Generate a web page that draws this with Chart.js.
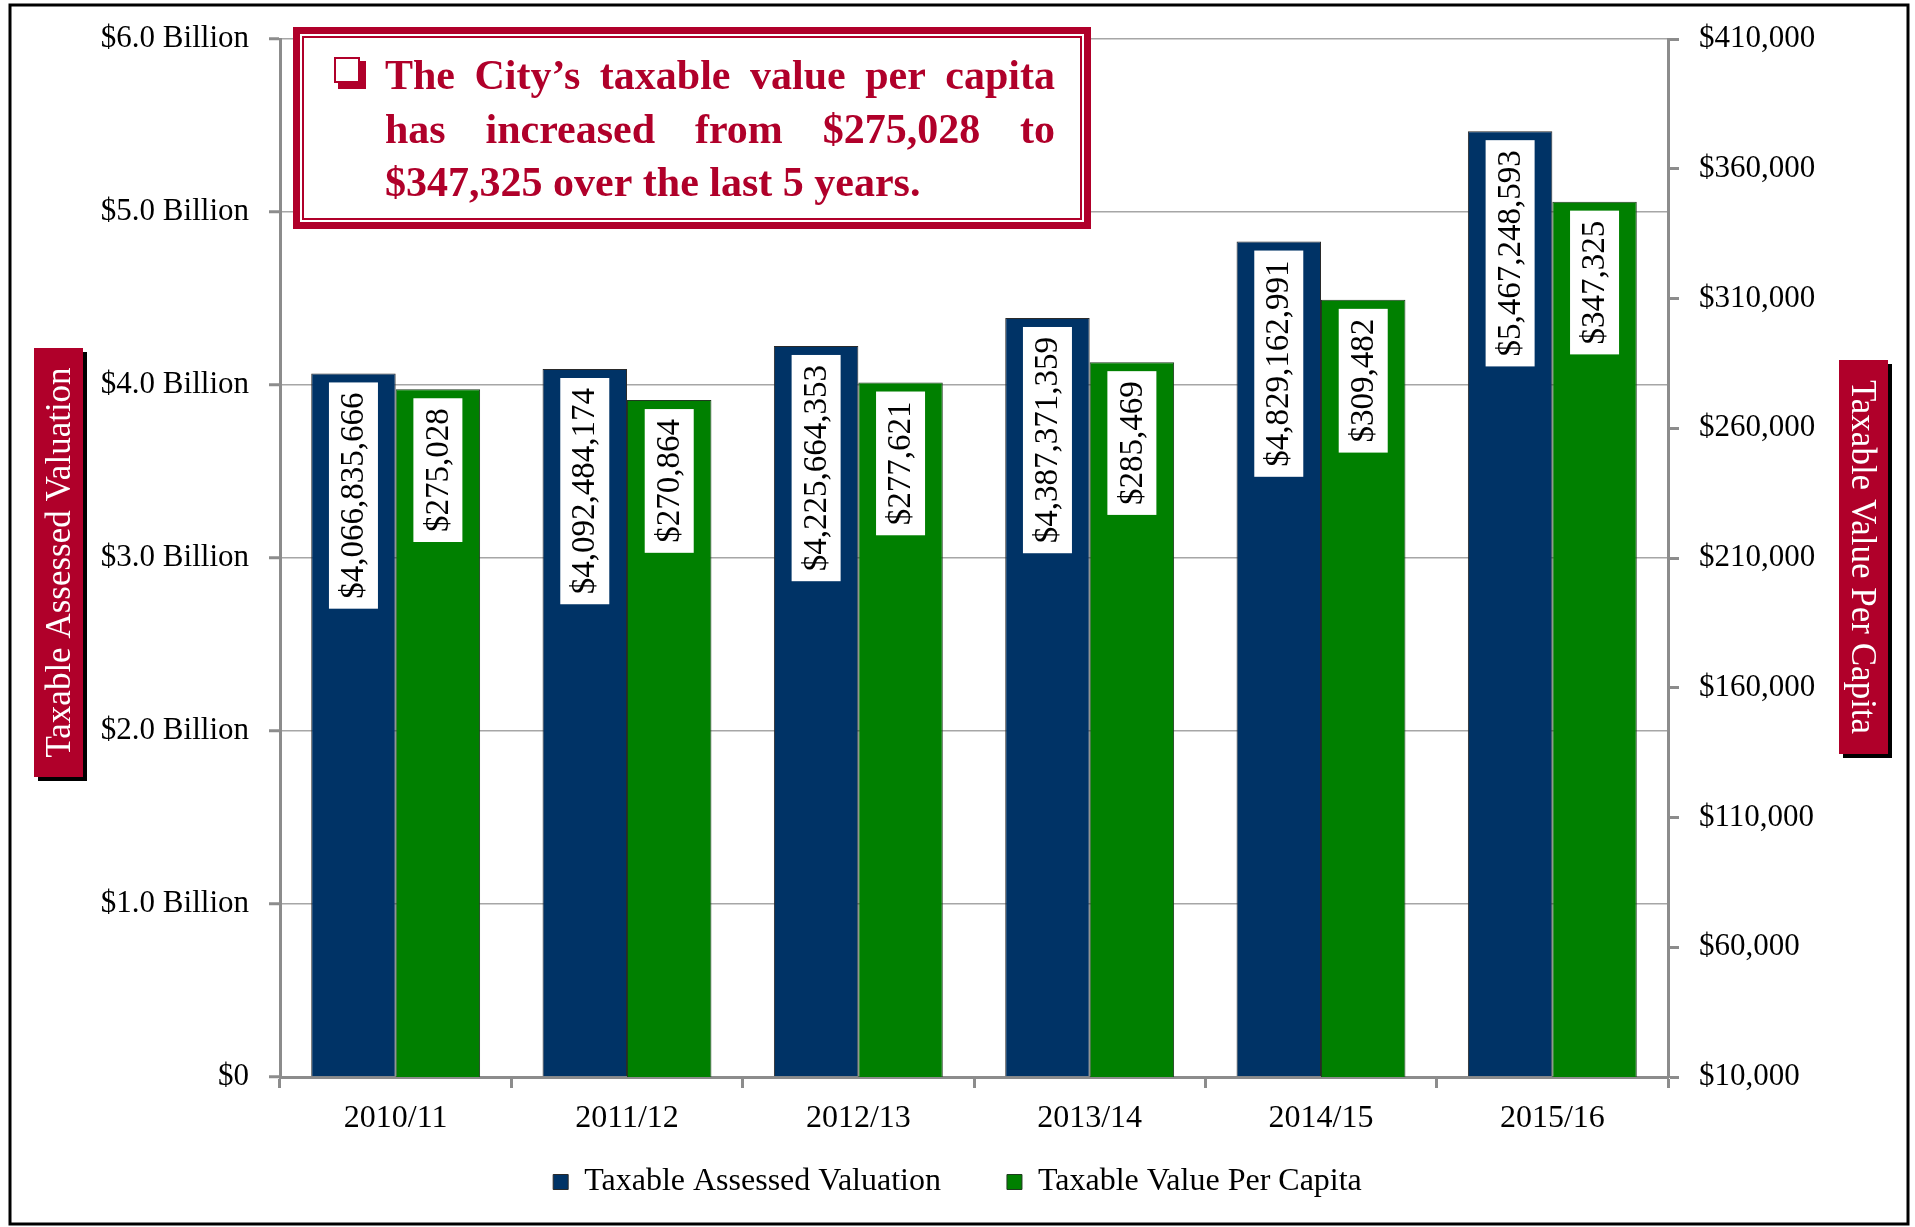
<!DOCTYPE html>
<html>
<head>
<meta charset="utf-8">
<script src="https://cdn.jsdelivr.net/npm/chart.js@4"></script>
<style>
  html, body { margin: 0; padding: 0; background: #fff; }
  #wrap { width: 1915px; height: 1227px; position: relative; }
</style>
</head>
<body>
<div id="wrap"><canvas id="taxChart"></canvas></div>
<script>
const years = ["2010/11", "2011/12", "2012/13", "2013/14", "2014/15", "2015/16"];
const assessedValuation = [4066835666, 4092484174, 4225664353, 4387371359, 4829162991, 5467248593];
const valuePerCapita = [275028, 270864, 277621, 285469, 309482, 347325];

const RED = "#b0002a";
const SERIF = "'Liberation Serif', 'Times New Roman', serif";

const money = (v) => "$" + v.toLocaleString("en-US");

// labels in white boxes, rotated, at the top inside each bar
const barLabels = {
  id: "barLabels",
  afterDatasetsDraw(chart) {
    const ctx = chart.ctx;
    ctx.save();
    ctx.font = "33px " + SERIF;
    chart.data.datasets.forEach((ds, di) => {
      const meta = chart.getDatasetMeta(di);
      meta.data.forEach((bar, i) => {
        const text = money(ds.data[i]);
        const len = ctx.measureText(text).width + 20;
        const top = bar.y + 9;
        ctx.save();
        ctx.translate(bar.x, top + len / 2);
        ctx.rotate(-Math.PI / 2);
        ctx.fillStyle = "#fff";
        ctx.fillRect(-len / 2, -24.5, len, 49);
        ctx.fillStyle = "#000";
        ctx.textAlign = "center";
        ctx.textBaseline = "middle";
        ctx.fillText(text, 0, 1);
        ctx.restore();
      });
    });
    ctx.restore();
  },
};

function titleBox(ctx, x, y, w, h, text, angle) {
  ctx.fillStyle = "#000";
  ctx.fillRect(x + 4, y + 4, w, h);
  ctx.fillStyle = RED;
  ctx.fillRect(x, y, w, h);
  ctx.save();
  ctx.translate(x + w / 2, y + h / 2);
  ctx.rotate(angle);
  ctx.fillStyle = "#fff";
  ctx.font = "35px " + SERIF;
  ctx.textAlign = "center";
  ctx.textBaseline = "middle";
  ctx.fillText(text, 0, 2);
  ctx.restore();
}

function justifyLine(ctx, words, x, y, width) {
  const total = words.reduce((s, w) => s + ctx.measureText(w).width, 0);
  const gap = (width - total) / (words.length - 1);
  let cx = x;
  words.forEach((w) => {
    ctx.fillText(w, cx, y);
    cx += ctx.measureText(w).width + gap;
  });
}

const decorations = {
  id: "decorations",
  beforeDraw(chart) {
    const ctx = chart.ctx;
    ctx.save();
    ctx.fillStyle = "#fff";
    ctx.fillRect(0, 0, chart.width, chart.height);
    ctx.strokeStyle = "#000";
    ctx.lineWidth = 3;
    ctx.strokeRect(10, 5, 1898, 1219);
    ctx.restore();
  },
  afterDraw(chart) {
    const ctx = chart.ctx;
    ctx.save();
    // axis titles
    titleBox(ctx, 34, 348, 49, 429, "Taxable Assessed Valuation", -Math.PI / 2);
    titleBox(ctx, 1839, 360, 49, 394, "Taxable Value Per Capita", Math.PI / 2);

    // callout box
    ctx.fillStyle = RED;
    ctx.fillRect(293, 27, 798, 202);
    ctx.fillStyle = "#fff";
    ctx.fillRect(300, 34, 784, 188);
    ctx.strokeStyle = RED;
    ctx.lineWidth = 2;
    ctx.strokeRect(303, 37, 778, 182);

    // checkbox bullet
    ctx.fillStyle = RED;
    ctx.fillRect(338, 61, 28, 28);
    ctx.fillStyle = "#fff";
    ctx.fillRect(335, 58, 24, 24);
    ctx.lineWidth = 2;
    ctx.strokeRect(335, 58, 24, 24);

    ctx.fillStyle = RED;
    ctx.font = "bold 42px " + SERIF;
    ctx.textBaseline = "alphabetic";
    justifyLine(ctx, "The City\u2019s taxable value per capita".split(" "), 385, 89, 670);
    justifyLine(ctx, "has increased from $275,028 to".split(" "), 385, 143, 670);
    ctx.fillText("$347,325 over the last 5 years.", 385, 196);
    ctx.restore();
  },
};

const ctx = document.getElementById("taxChart").getContext("2d");
new Chart(ctx, {
  type: "bar",
  data: {
    labels: years,
    datasets: [
      {
        label: "Taxable Assessed Valuation",
        data: assessedValuation,
        backgroundColor: "#003366",
        borderColor: "#2a2a2a",
        borderWidth: 1,
        yAxisID: "yLeft",
      },
      {
        label: "Taxable Value Per Capita",
        data: valuePerCapita,
        backgroundColor: "#008000",
        borderColor: "#1f3a1f",
        borderWidth: 1,
        yAxisID: "yRight",
      },
    ],
  },
  options: {
    responsive: true,
    maintainAspectRatio: false,
    animation: false,
    layout: { padding: { top: 39, bottom: 19, left: 0, right: 0 } },
    categoryPercentage: 0.73,
    barPercentage: 1,
    plugins: {
      tooltip: { enabled: false },
      legend: {
        position: "bottom",
        labels: {
          color: "#000",
          font: { family: SERIF, size: 32 },
          boxWidth: 15,
          boxHeight: 15,
          padding: 26,
          // wider gap between the two entries
          generateLabels(chart) {
            const items = Chart.defaults.plugins.legend.labels.generateLabels(chart);
            items.forEach((it, i) => {
              if (i < items.length - 1) it.text += "\u00a0\u00a0\u00a0\u00a0\u00a0";
            });
            return items;
          },
        },
      },
    },
    scales: {
      x: {
        grid: { offset: true, drawOnChartArea: false, tickLength: 11, tickColor: "#8c8c8c", tickWidth: 3 },
        border: { color: "#8c8c8c", width: 3 },
        ticks: { color: "#000", font: { family: SERIF, size: 32 }, padding: 11 },
        afterFit(scale) { scale.height = 63; },
      },
      yLeft: {
        position: "left",
        min: 0,
        max: 6000000000,
        grid: { color: "#a6a6a6", lineWidth: 1.5, tickLength: 11, tickColor: "#8c8c8c", tickWidth: 3 },
        border: { color: "#8c8c8c", width: 3 },
        ticks: {
          stepSize: 1000000000,
          color: "#000",
          font: { family: SERIF, size: 31 },
          padding: 20,
          callback: (v) => (v === 0 ? "$0" : "$" + (v / 1e9).toFixed(1) + " Billion"),
        },
        afterFit(scale) { scale.width = 280; },
      },
      yRight: {
        position: "right",
        min: 10000,
        max: 410000,
        grid: { drawOnChartArea: false, tickLength: 11, tickColor: "#8c8c8c", tickWidth: 3 },
        border: { color: "#8c8c8c", width: 3 },
        ticks: {
          stepSize: 50000,
          color: "#000",
          font: { family: SERIF, size: 31 },
          padding: 20,
          callback: (v) => money(v),
        },
        afterFit(scale) { scale.width = 247; },
      },
    },
  },
  plugins: [decorations, barLabels],
});
</script>
</body>
</html>
